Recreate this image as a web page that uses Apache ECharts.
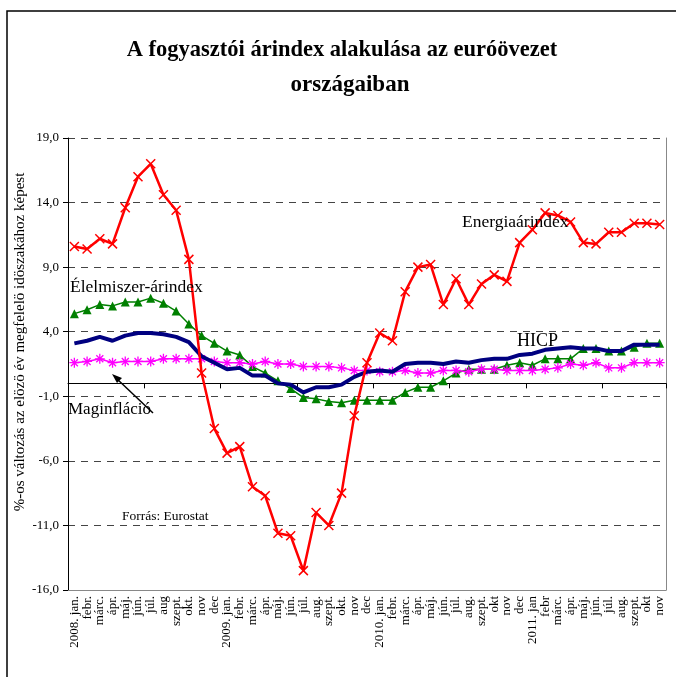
<!DOCTYPE html>
<html>
<head>
<meta charset="utf-8">
<script src="https://cdn.jsdelivr.net/npm/echarts@6/dist/echarts.min.js"></script>
<style>
html,body{margin:0;padding:0;background:#fff;}
#chart{width:676px;height:677px;}
</style>
</head>
<body>
<div id="chart"></div>
<script>
const months = ["2008. jan.","febr.","márc.","ápr.","máj.","jún.","júl.","aug","szept.","okt.","nov","dec",
"2009. jan.","febr.","márc.","ápr.","máj.","jún.","júl.","aug.","szept.","okt.","nov","dec",
"2010. jan.","febr.","márc.","ápr.","máj.","jún.","júl.","aug.","szept.","okt","nov","dec",
"2011. jan","febr","márc.","ápr.","máj.","jún.","júl.","aug.","szept.","okt","nov"];

const energia = [10.6,10.4,11.2,10.8,13.6,16.0,17.0,14.6,13.4,9.6,0.8,-3.5,
-5.4,-4.9,-8.0,-8.7,-11.6,-11.8,-14.5,-10.0,-11.0,-8.5,-2.5,1.6,
3.9,3.3,7.1,9.0,9.2,6.1,8.1,6.1,7.7,8.4,7.9,10.9,
11.9,13.2,13.0,12.5,10.9,10.8,11.7,11.7,12.4,12.4,12.3];

const elelmiszer = [5.4,5.7,6.1,6.0,6.3,6.3,6.6,6.2,5.6,4.6,3.7,3.1,
2.5,2.2,1.3,0.8,0.2,-0.4,-1.1,-1.2,-1.4,-1.5,-1.3,-1.3,
-1.3,-1.3,-0.7,-0.3,-0.3,0.2,0.8,1.1,1.1,1.1,1.4,1.6,
1.4,1.9,1.9,1.9,2.7,2.7,2.5,2.5,2.8,3.1,3.1];

const hicp = [3.1,3.3,3.6,3.3,3.7,3.9,3.9,3.8,3.6,3.2,2.1,1.6,
1.1,1.2,0.6,0.6,0.0,-0.1,-0.7,-0.3,-0.3,-0.1,0.5,0.9,
1.0,0.9,1.5,1.6,1.6,1.5,1.7,1.6,1.8,1.9,1.9,2.2,
2.3,2.6,2.7,2.8,2.7,2.7,2.5,2.5,3.0,3.0,3.0];

const maginflacio = [1.6,1.7,1.9,1.6,1.7,1.7,1.7,1.9,1.9,1.9,1.9,1.7,
1.6,1.6,1.5,1.7,1.5,1.5,1.3,1.3,1.3,1.2,1.0,1.0,
0.9,0.9,1.0,0.8,0.8,1.0,1.0,0.9,1.1,1.1,1.0,1.0,
1.0,1.1,1.2,1.5,1.4,1.6,1.2,1.2,1.6,1.6,1.6];

const serif = "'Liberation Serif','DejaVu Serif',serif";
const chart = echarts.init(document.getElementById('chart'), null, {renderer:'canvas'});

const X_SYM = 'path://M0,0L10,10M10,0L0,10';
const STAR_SYM = 'path://M5,0L5,10M0,5L10,5M1.5,1.5L8.5,8.5M8.5,1.5L1.5,8.5';

function txt(x,y,text,font,align){
  return {type:'text',x:x,y:y,z:10,style:{text:text,font:font,fill:'#000',
    textAlign:align,textVerticalAlign:'middle',align:align,verticalAlign:'middle'}};
}

chart.setOption({
  animation:false,
  backgroundColor:'#fff',
  grid:{left:68,right:10,top:138,bottom:87,containLabel:false},
  xAxis:[{
    type:'category', data:months, boundaryGap:true,
    axisLine:{show:true,onZero:true,lineStyle:{color:'#000',width:1}},
    axisTick:{show:true,inside:false,length:5,lineStyle:{color:'#000'}},
    axisLabel:{show:false}, splitLine:{show:false}
  },{
    type:'category', data:months, boundaryGap:true, position:'bottom',
    axisLine:{show:true,onZero:false,lineStyle:{color:'#888',width:1}},
    axisTick:{show:false},
    axisLabel:{show:true,interval:0,rotate:90,margin:6,color:'#000',fontFamily:serif,fontSize:13},
    splitLine:{show:false}
  }],
  yAxis:[{
    type:'value', min:-16, max:19, interval:5,
    axisLine:{show:true,lineStyle:{color:'#000',width:1}},
    axisTick:{show:true,inside:false,length:5,lineStyle:{color:'#000'}},
    axisLabel:{color:'#000',fontFamily:serif,fontSize:13,margin:9,
      formatter:v=>v.toFixed(1).replace('.',',')},
    splitLine:{show:true,lineStyle:{color:'#444',type:[7,6],width:1}}
  },{
    type:'value', min:-16, max:19, interval:5, position:'right',
    axisLine:{show:true,lineStyle:{color:'#888',width:1}},
    axisTick:{show:false}, axisLabel:{show:false}, splitLine:{show:false}
  }],
  series:[
    {name:'Élelmiszer-árindex',type:'line',data:elelmiszer,xAxisIndex:0,yAxisIndex:0,
     symbol:'triangle',symbolSize:9,showAllSymbol:true,
     lineStyle:{color:'#008000',width:1.5},itemStyle:{color:'#008000'},z:2},
    {name:'Maginfláció',type:'line',data:maginflacio,xAxisIndex:0,yAxisIndex:0,
     symbol:STAR_SYM,symbolSize:10,showAllSymbol:true,
     lineStyle:{color:'#ff00ff',width:1.5},itemStyle:{color:'#ff00ff',borderColor:'#ff00ff',borderWidth:1.3},z:3},
    {name:'HICP',type:'line',data:hicp,xAxisIndex:0,yAxisIndex:0,
     symbol:'none',lineStyle:{color:'#000080',width:4},z:4},
    {name:'Energiaárindex',type:'line',data:energia,xAxisIndex:0,yAxisIndex:0,
     symbol:X_SYM,symbolSize:9,showAllSymbol:true,
     lineStyle:{color:'#ff0000',width:2.5},itemStyle:{color:'#ff0000',borderColor:'#ff0000',borderWidth:1.5},z:5}
  ],
  graphic:[
    {type:'rect',shape:{x:7,y:11,width:700,height:700},style:{fill:'none',stroke:'#000',lineWidth:1.5},z:-1},
    txt(342,50,'A fogyasztói árindex alakulása az euróövezet',"bold 22.5px "+serif,'center'),
    txt(350,85,'országaiban',"bold 23px "+serif,'center'),
    {type:'text',x:20,y:342,rotation:Math.PI/2,style:{text:'%-os változás az elözö év megfelelö idöszakához képest',font:"15px "+serif,fill:'#000',textAlign:'center',textVerticalAlign:'middle',align:'center',verticalAlign:'middle'}},
    txt(70,287,'Élelmiszer-árindex',"17.5px "+serif,'left'),
    txt(462,222,'Energiaárindex',"17.5px "+serif,'left'),
    txt(517,341,'HICP',"18px "+serif,'left'),
    txt(68,410,'Maginfláció',"17px "+serif,'left'),
    txt(122,516,'Forrás: Eurostat',"13.5px "+serif,'left'),
    {type:'line',shape:{x1:153,y1:413,x2:116,y2:378},style:{stroke:'#000',lineWidth:1.5},z:10},
    {type:'polygon',shape:{points:[[112,374],[122,378],[117,383]]},style:{fill:'#000'},z:10}
  ]
});
</script>
</body>
</html>
